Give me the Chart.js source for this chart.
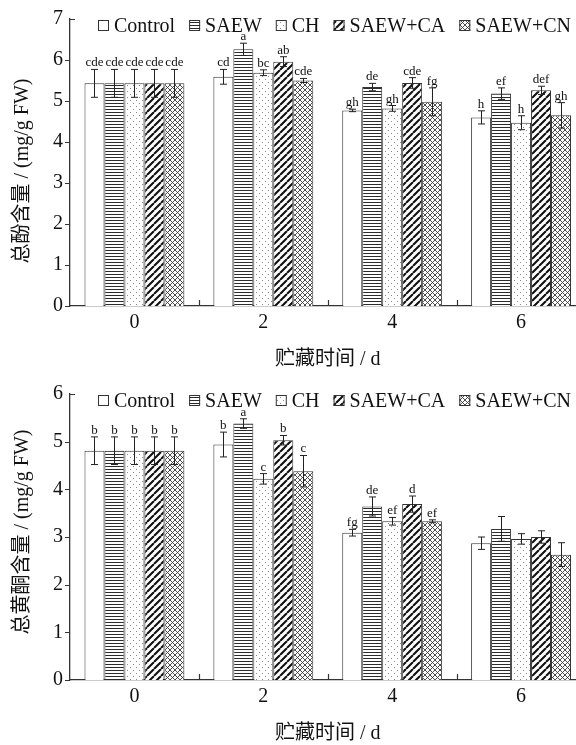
<!DOCTYPE html>
<html><head><meta charset="utf-8">
<script src="https://cdn.jsdelivr.net/npm/chart.js@4.4.0/dist/chart.umd.min.js"></script>
<style>
html,body{margin:0;padding:0;background:#fff;overflow:hidden;}
#wrap{position:relative;width:576px;height:745px;overflow:hidden;background:#fff;}
canvas{position:absolute;left:0;}
#c1{top:0;} #c2{top:375px;}
</style></head><body>
<div id="wrap"><canvas id="c1" width="600" height="375"></canvas><canvas id="c2" width="600" height="375"></canvas></div>
<script>
// ---------- data ----------
const days = ['0','2','4','6'];
const seriesNames = ['Control','SAEW','CH','SAEW+CA','SAEW+CN'];
const yTicksPhenol = [0,1,2,3,4,5,6,7];
const yTicksFlav = [0,1,2,3,4,5,6];

// Total phenol (mg/g FW)
const phenolControl = [5.43, 5.59, 4.77, 4.60];
const phenolSAEW    = [5.43, 6.26, 5.34, 5.18];
const phenolCH      = [5.43, 5.69, 4.82, 4.47];
const phenolCA      = [5.43, 5.96, 5.44, 5.26];
const phenolCN      = [5.43, 5.50, 4.98, 4.65];
const phenolErrControl = [0.34, 0.18, 0.03, 0.16];
const phenolErrSAEW    = [0.34, 0.15, 0.09, 0.14];
const phenolErrCH      = [0.34, 0.07, 0.07, 0.17];
const phenolErrCA      = [0.34, 0.12, 0.13, 0.10];
const phenolErrCN      = [0.34, 0.05, 0.34, 0.31];
const phenolSigControl = ['cde','cd','gh','h'];
const phenolSigSAEW    = ['cde','a','de','ef'];
const phenolSigCH      = ['cde','bc','gh','h'];
const phenolSigCA      = ['cde','ab','cde','def'];
const phenolSigCN      = ['cde','cde','fg','gh'];

// Total flavonoids (mg/g FW)
const flavControl = [4.81, 4.94, 3.09, 2.87];
const flavSAEW    = [4.81, 5.38, 3.64, 3.17];
const flavCH      = [4.81, 4.22, 3.33, 2.96];
const flavCA      = [4.81, 5.03, 3.69, 3.00];
const flavCN      = [4.81, 4.38, 3.33, 2.63];
const flavErrControl = [0.29, 0.26, 0.07, 0.13];
const flavErrSAEW    = [0.29, 0.10, 0.20, 0.26];
const flavErrCH      = [0.29, 0.11, 0.08, 0.11];
const flavErrCA      = [0.29, 0.10, 0.17, 0.13];
const flavErrCN      = [0.29, 0.33, 0.03, 0.25];
const flavSigControl = ['b','b','fg',''];
const flavSigSAEW    = ['b','a','de',''];
const flavSigCH      = ['b','c','ef',''];
const flavSigCA      = ['b','b','d',''];
const flavSigCN      = ['b','c','ef',''];

// ---------- styles ----------
const SERIF = '"Liberation Serif","Times New Roman",serif';
const MIX = '"Liberation Serif","Noto Sans CJK SC",serif';

function makePattern(kind){
  if (kind === 'plain') return '#ffffff';
  const c = document.createElement('canvas');
  let s = 6;
  if (kind === 'hlines'){ c.width = 4; c.height = 3; }
  else if (kind === 'dots'){ s = 6; c.width = s; c.height = s; }
  else if (kind === 'diag'){ s = 7; c.width = s; c.height = s; }
  else { s = 5; c.width = s; c.height = s; }
  const g = c.getContext('2d');
  g.fillStyle = '#fff'; g.fillRect(0,0,c.width,c.height);
  if (kind === 'hlines'){
    g.fillStyle = '#2b2b2b'; g.fillRect(0,1,4,1);
  } else if (kind === 'dots'){
    g.fillStyle = '#8a8a8a'; g.fillRect(1,1,1,1); g.fillRect(4,4,1,1);
  } else if (kind === 'diag'){
    g.strokeStyle = '#111'; g.lineWidth = 2.1; g.beginPath();
    for (const k of [-s,0,s]){ g.moveTo(k, s); g.lineTo(k+s, 0); }
    g.stroke();
  } else {
    g.strokeStyle = '#3a3a3a'; g.lineWidth = 0.9; g.beginPath();
    for (const k of [-s,0,s]){ g.moveTo(k, s); g.lineTo(k+s, 0); g.moveTo(k,0); g.lineTo(k+s,s); }
    g.stroke();
  }
  return g.createPattern(c, 'repeat');
}
const patternKinds = ['plain','hlines','dots','diag','cross'];
const fills = patternKinds.map(makePattern);

// ---------- plugins ----------
const errPlugin = {
  id: 'errs',
  afterDatasetsDraw(chart){
    const {ctx} = chart; const y = chart.scales.y;
    chart.data.datasets.forEach((ds,i)=>{
      const meta = chart.getDatasetMeta(i);
      meta.data.forEach((bar,j)=>{
        const v = ds.data[j], e = ds.errors[j];
        const yt = y.getPixelForValue(v+e), yb = y.getPixelForValue(v-e);
        const bx = Math.round(bar.x)+0.5;
        ctx.save();
        ctx.strokeStyle = '#222'; ctx.lineWidth = 1;
        ctx.beginPath();
        ctx.moveTo(bx, yt); ctx.lineTo(bx, yb);
        ctx.moveTo(bx-3.5, yt); ctx.lineTo(bx+3.5, yt);
        ctx.moveTo(bx-3.5, yb); ctx.lineTo(bx+3.5, yb);
        ctx.stroke();
        const t = ds.letters[j];
        if (t){
          ctx.fillStyle = '#111'; ctx.font = '13px ' + SERIF;
          ctx.textAlign = 'center'; ctx.textBaseline = 'alphabetic';
          ctx.fillText(t, bar.x, yt - 3);
        }
        ctx.restore();
      });
    });
  }
};

const decoPlugin = {
  id: 'deco',
  afterDraw(chart){
    const opts = chart.options.plugins.deco;
    const {ctx, chartArea:a} = chart; const x = chart.scales.x, y = chart.scales.y;
    ctx.save();
    ctx.strokeStyle = '#333'; ctx.lineWidth = 1.2;
    ctx.beginPath();
    y.ticks.forEach(t=>{
      const py = Math.round(y.getPixelForValue(t.value)) + 0.5;
      if (t.value === y.max){ ctx.moveTo(a.left, py); ctx.lineTo(a.left+5, py); }
      else { ctx.moveTo(a.left-5, py); ctx.lineTo(a.left, py); }
    });
    const step = x.getPixelForValue(1) - x.getPixelForValue(0);
    for (let i=0;i<days.length;i++){
      const px = Math.round(x.getPixelForValue(i) + step/2) + 0.5;
      ctx.moveTo(px, a.bottom); ctx.lineTo(px, a.bottom-6);
    }
    ctx.stroke();
    // legend
    ctx.font = '20px ' + SERIF; ctx.textBaseline = 'middle'; ctx.textAlign = 'left';
    let lx = opts.legendX; const cy = a.top + 6.5; const bs = 11;
    chart.data.datasets.forEach(ds=>{
      ctx.fillStyle = ds.backgroundColor; ctx.fillRect(lx, cy-bs/2, bs, bs);
      ctx.strokeStyle = '#333'; ctx.lineWidth = 1; ctx.strokeRect(lx+0.5, cy-bs/2+0.5, bs-1, bs-1);
      lx += bs + 5;
      ctx.fillStyle = '#111'; ctx.fillText(ds.label, lx, cy+1);
      lx += ctx.measureText(ds.label).width + 14;
    });
    // y title
    ctx.translate(opts.titleX, opts.titleY); ctx.rotate(-Math.PI/2);
    ctx.font = '20px ' + MIX; ctx.textAlign = 'center'; ctx.textBaseline = 'middle'; ctx.fillStyle = '#111';
    ctx.fillText(opts.yTitle, 0, 0);
    ctx.restore();
  }
};

function makeChart(id, vals, errs, sigs, yTicks, yTitle, cfg){
  const H = 375;
  const datasets = seriesNames.map((n,i)=>({
    label: n, data: vals[i], errors: errs[i], letters: sigs[i],
    backgroundColor: fills[i], borderColor: '#333', borderWidth: 1,
    barPercentage: 1, categoryPercentage: 0.775
  }));
  return new Chart(document.getElementById(id), {
    type: 'bar',
    data: { labels: days, datasets },
    plugins: [errPlugin, decoPlugin],
    options: {
      responsive: false, animation: false, devicePixelRatio: 1,
      layout: { padding: { left: 0, right: 14.5, top: cfg.padTop, bottom: 0 } },
      plugins: {
        legend: { display: false }, tooltip: { enabled: false },
        deco: { legendX: 98, titleX: 23, titleY: cfg.yTitleY, yTitle: yTitle }
      },
      scales: {
        x: {
          grid: { display: false, drawTicks: false },
          border: { display: true, color: '#333', width: 1.3 },
          ticks: { color: '#111', font: { family: SERIF, size: 20 }, padding: cfg.tickPad },
          title: { display: true, text: '贮藏时间 / d', color: '#111',
                   font: { family: MIX, size: 20, lineHeight: 1.2 }, padding: { top: 0, bottom: cfg.titlePad } },
          afterFit(s){ s.height = H - cfg.axisBottom; }
        },
        y: {
          min: 0, max: yTicks[yTicks.length-1],
          afterBuildTicks(s){ s.ticks = yTicks.map(v=>({value:v})); },
          grid: { display: false, drawTicks: false },
          border: { display: true, color: '#333', width: 1.3 },
          ticks: { color: '#111', font: { family: SERIF, size: 20 }, padding: 7 },
          afterFit(s){ s.width = 70; }
        }
      }
    }
  });
}

makeChart('c1',
  [phenolControl, phenolSAEW, phenolCH, phenolCA, phenolCN],
  [phenolErrControl, phenolErrSAEW, phenolErrCH, phenolErrCA, phenolErrCN],
  [phenolSigControl, phenolSigSAEW, phenolSigCH, phenolSigCA, phenolSigCN],
  yTicksPhenol, '总酚含量 / (mg/g FW)',
  { padTop: 19, axisBottom: 306, tickPad: 5, titlePad: 3, yTitleY: 171 });

makeChart('c2',
  [flavControl, flavSAEW, flavCH, flavCA, flavCN],
  [flavErrControl, flavErrSAEW, flavErrCH, flavErrCA, flavErrCN],
  [flavSigControl, flavSigSAEW, flavSigCH, flavSigCA, flavSigCN],
  yTicksFlav, '总黄酮含量 / (mg/g FW)',
  { padTop: 18, axisBottom: 305, tickPad: 5, titlePad: 4, yTitleY: 157 });
</script>
</body></html>
